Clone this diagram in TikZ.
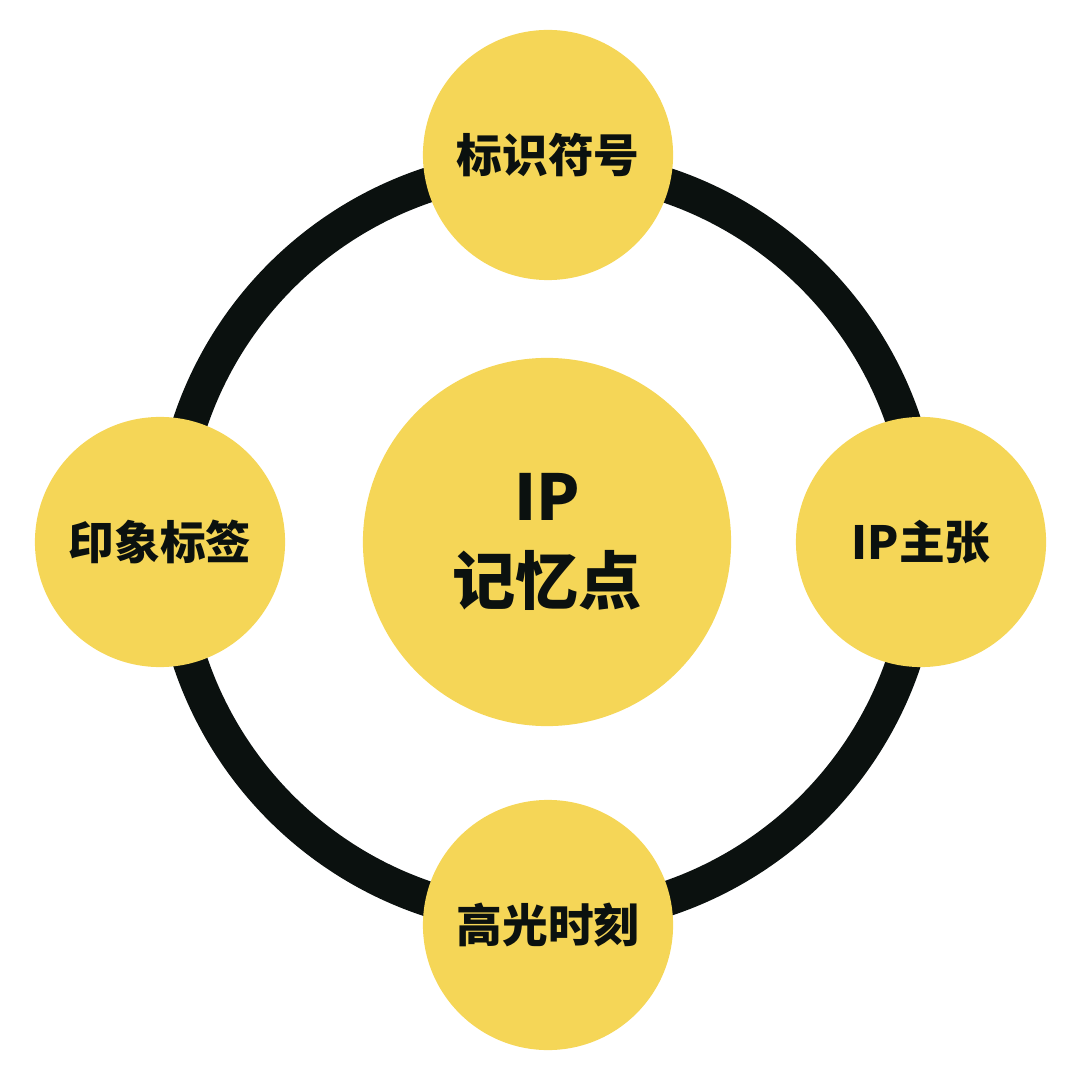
\documentclass[tikz,border=0pt]{standalone}
\usepackage{fontspec}
\newfontfamily\cjk{Noto Sans CJK SC}[BoldFont=* Black]
\definecolor{yel}{HTML}{F5D657}
\definecolor{drk}{HTML}{0B110F}
\begin{document}
\begin{tikzpicture}[x=0.01cm,y=-0.01cm,
  small/.style={circle,fill=yel,minimum size=2.5cm,inner sep=0pt,font=\cjk\bfseries\fontsize{13}{16}\selectfont,text=drk},
  big/.style={circle,fill=yel,minimum size=3.68cm,inner sep=0pt,font=\cjk\bfseries\fontsize{18}{24}\selectfont,text=drk,align=center}]
\useasboundingbox (0,0) rectangle (1080,1080);
\coordinate (c) at (547,542);
\draw[drk,line width=0.35cm] (c) circle [radius=3.76cm];
\node[big] (m) at (c) {IP\\记忆点};
\node[small] (t) at (548,155) {标识符号};
\node[small] (l) at (160,542) {印象标签};
\node[small] (r) at (921,542) {IP主张};
\node[small] (b) at (548,925) {高光时刻};
\end{tikzpicture}
\end{document}
